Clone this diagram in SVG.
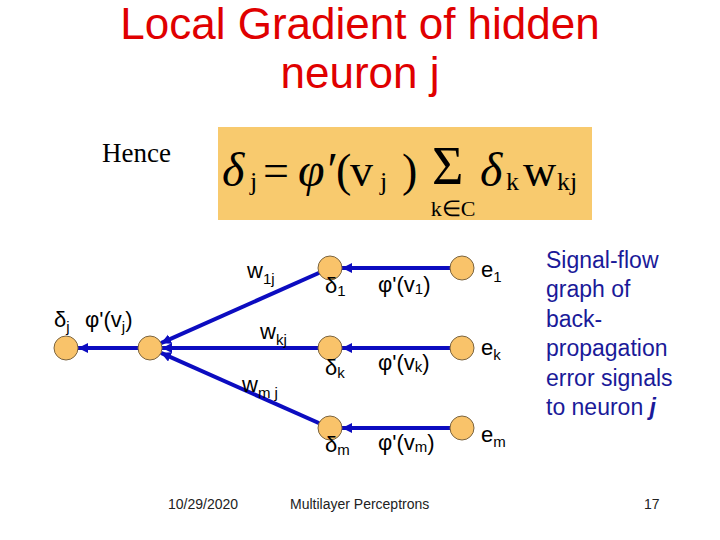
<svg xmlns="http://www.w3.org/2000/svg" width="720" height="540" viewBox="0 0 720 540">
<defs>
<marker id="ah" markerUnits="userSpaceOnUse" markerWidth="12" markerHeight="12" refX="10" refY="5" orient="auto">
<path d="M0,0 L10,5 L0,10 z" fill="#0c0cc0"/>
</marker>
<style>
.title{font-family:"Liberation Sans",Arial,sans-serif;font-size:44px;fill:#e00000;text-anchor:middle}
.lbl{font-family:"Liberation Sans",Arial,sans-serif;font-size:22px;fill:#000}
.sub{font-size:15px}
.ms{font-family:"Liberation Serif","Times New Roman",serif;fill:#000}
.note{font-family:"Liberation Sans",Arial,sans-serif;font-size:23px;fill:#1a1a99}
.foot{font-family:"Liberation Sans",Arial,sans-serif;font-size:14px;fill:#222}
.edge{stroke:#0c0cc0;stroke-width:4;fill:none;marker-end:url(#ah)}
.node{fill:#f9c36a;stroke:#7a6440;stroke-width:1}
</style>
</defs>
<rect width="720" height="540" fill="#fff"/>
<text class="title" x="360" y="39">Local Gradient of hidden</text>
<text class="title" x="360" y="88">neuron j</text>
<text class="ms" x="102" y="162" font-size="27">Hence</text>
<g id="formula">
<rect x="218" y="127" width="374" height="93" fill="#f8ca6e"/>
<text class="ms" x="222" y="186" font-size="48" font-style="italic">δ</text>
<text class="ms" x="250" y="190" font-size="26">j</text>
<text class="ms" x="263" y="186" font-size="46">=</text>
<text class="ms" x="298" y="186" font-size="48" font-style="italic">φ′</text>
<text class="ms" x="336" y="186" font-size="46">(</text>
<text class="ms" x="350" y="186" font-size="46">v</text>
<text class="ms" x="380" y="190" font-size="26">j</text>
<text class="ms" x="402" y="186" font-size="46">)</text>
<text class="ms" x="432" y="184" font-size="54">Σ</text>
<text class="ms" x="453" y="216" font-size="22" text-anchor="middle">k∈C</text>
<text class="ms" x="480" y="186" font-size="48" font-style="italic">δ</text>
<text class="ms" x="506" y="190" font-size="26">k</text>
<text class="ms" x="523" y="186" font-size="46">w</text>
<text class="ms" x="557" y="190" font-size="26">kj</text>
</g>
<g id="connectors">
<line class="edge" x1="150" y1="348" x2="78" y2="348"/>
<line class="edge" x1="330" y1="268" x2="160.96" y2="343.13"/>
<line class="edge" x1="330" y1="348" x2="162" y2="348"/>
<line class="edge" x1="330" y1="428" x2="160.96" y2="352.87"/>
<line class="edge" x1="462" y1="268" x2="342" y2="268"/>
<line class="edge" x1="462" y1="348" x2="342" y2="348"/>
<line class="edge" x1="462" y1="428" x2="342" y2="428"/>
</g>
<g id="node-dj"><circle class="node" cx="66" cy="348" r="12"/></g>
<g id="node-j"><circle class="node" cx="150" cy="348" r="12"/></g>
<g id="node-d1"><circle class="node" cx="330" cy="268" r="12"/></g>
<g id="node-dk"><circle class="node" cx="330" cy="348" r="12"/></g>
<g id="node-dm"><circle class="node" cx="330" cy="428" r="12"/></g>
<g id="node-e1"><circle class="node" cx="462" cy="268" r="12"/></g>
<g id="node-ek"><circle class="node" cx="462" cy="348" r="12"/></g>
<g id="node-em"><circle class="node" cx="462" cy="428" r="12"/></g>
<g id="labels">
<text class="lbl" x="54" y="327">δ<tspan class="sub" dy="5">j</tspan></text>
<text class="lbl" x="85" y="327">φ'(v<tspan class="sub" dy="5">j</tspan><tspan dy="-5">)</tspan></text>
<text class="lbl" x="247" y="278">w<tspan class="sub" dy="6">1j</tspan></text>
<text class="lbl" x="260" y="339">w<tspan class="sub" dy="6">kj</tspan></text>
<text class="lbl" x="242" y="392">w<tspan class="sub" dy="6">m j</tspan></text>
<text class="lbl" x="325" y="293">δ<tspan class="sub" dy="3">1</tspan></text>
<text class="lbl" x="325" y="375">δ<tspan class="sub" dy="3">k</tspan></text>
<text class="lbl" x="325" y="452">δ<tspan class="sub" dy="3">m</tspan></text>
<text class="lbl" x="378" y="292">φ'(v<tspan class="sub" dy="2">1</tspan><tspan dy="-2">)</tspan></text>
<text class="lbl" x="378" y="370">φ'(v<tspan class="sub" dy="2">k</tspan><tspan dy="-2">)</tspan></text>
<text class="lbl" x="378" y="450">φ'(v<tspan class="sub" dy="2">m</tspan><tspan dy="-2">)</tspan></text>
<text class="lbl" x="481" y="277">e<tspan class="sub" dy="5">1</tspan></text>
<text class="lbl" x="481" y="355">e<tspan class="sub" dy="5">k</tspan></text>
<text class="lbl" x="481" y="442">e<tspan class="sub" dy="5">m</tspan></text>
</g>
<g id="caption">
<text class="note" x="546" y="268">Signal-flow</text>
<text class="note" x="546" y="297">graph of</text>
<text class="note" x="546" y="327">back-</text>
<text class="note" x="546" y="356">propagation</text>
<text class="note" x="546" y="386">error signals</text>
<text class="note" x="546" y="415">to neuron <tspan font-weight="bold" font-style="italic">j</tspan></text>
</g>
<g id="footer">
<text class="foot" x="168" y="509">10/29/2020</text>
<text class="foot" x="290" y="509">Multilayer Perceptrons</text>
<text class="foot" x="644" y="509">17</text>
</g>
</svg>
